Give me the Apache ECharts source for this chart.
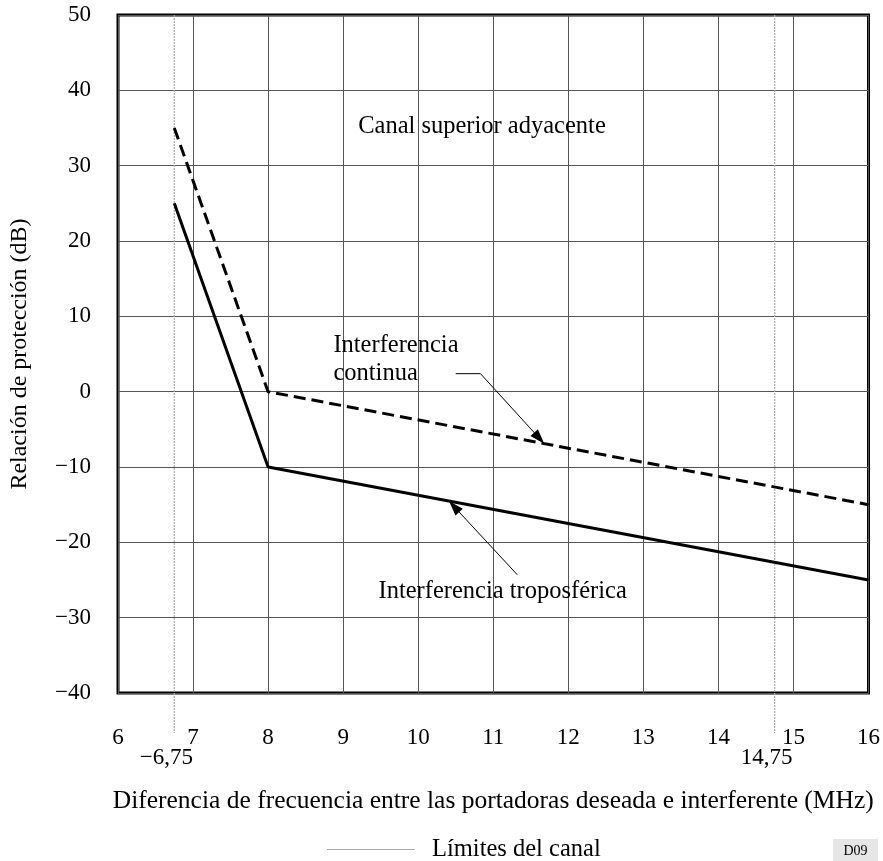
<!DOCTYPE html>
<html><head><meta charset="utf-8">
<script src="https://cdn.jsdelivr.net/npm/echarts@6/dist/echarts.min.js"></script>
<style>html,body{margin:0;padding:0;background:#fff}#c{width:883px;height:861px}</style>
</head><body><div id="c"></div>
<script>
const xTicks = [6, 7, 8, 9, 10, 11, 12, 13, 14, 15, 16];
const yTicks = [-40, -30, -20, -10, 0, 10, 20, 30, 40, 50];
const tropo = [[6.75, 25], [8, -10], [16, -25]];
const continua = [[6.75, 35], [8, 0], [16, -15]];
const channelLimits = [6.75, 14.75];
const channelLabels = ['\u22126,75', '14,75'];
const FONT = 'Liberation Serif';
const TXT = '24.5px ' + FONT;

const chart = echarts.init(document.getElementById('c'));
chart.setOption({
  animation: false,
  backgroundColor: '#fff',
  textStyle: {fontFamily: FONT},
  grid: {left: 115, right: 8, top: 15, bottom: 168, show: true, borderColor: '#000', borderWidth: 3},
  xAxis: {
    type: 'value', min: xTicks[0], max: xTicks[xTicks.length-1], interval: 1,
    axisLine: {show: false}, axisTick: {show: false},
    splitLine: {show: true, lineStyle: {color: '#555', width: 1}},
    axisLabel: {fontFamily: FONT, fontSize: 23, color: '#000', margin: 33},
    name: 'Diferencia de frecuencia entre las portadoras deseada e interferente (MHz)',
    nameLocation: 'middle', nameGap: 95,
    nameTextStyle: {fontFamily: FONT, fontSize: 25.5, color: '#000'}
  },
  yAxis: {
    type: 'value', min: yTicks[0], max: yTicks[yTicks.length-1], interval: 10,
    axisLine: {show: false}, axisTick: {show: false},
    splitLine: {show: true, lineStyle: {color: '#555', width: 1}},
    axisLabel: {fontFamily: FONT, fontSize: 23, color: '#000', margin: 27,
      formatter: v => v < 0 ? '\u2212' + Math.abs(v) : String(v)},
    name: 'Relación de protección (dB)', nameLocation: 'middle', nameGap: 86,
    nameTextStyle: {fontFamily: FONT, fontSize: 24, color: '#000'}
  },
  legend: {
    top: 832, left: 322, itemWidth: 100, itemHeight: 1,
    textStyle: {fontFamily: FONT, fontSize: 24.5, color: '#000'},
    data: [{name: 'Límites del canal', icon: 'path://M0,0 L88,0 L88,1 L0,1 Z M100,0 L100,1 L100,0 Z'}],
    selectedMode: false
  },
  series: [
    {
      name: 'Límites del canal', type: 'custom', clip: false, z: 1,
      itemStyle: {color: '#aaa'},
      data: channelLimits.map((x, i) => [x, i]),
      renderItem: (params, api) => {
        const x = api.value(0);
        const top = api.coord([x, yTicks[yTicks.length-1]]);
        const bot = api.coord([x, yTicks[0]]);
        return {
          type: 'group', children: [
            {type: 'line', shape: {x1: top[0], y1: top[1], x2: bot[0], y2: bot[1] + 40},
             style: {stroke: '#aaa', lineWidth: 1.2, lineDash: [2, 1]}},
            {type: 'text', x: top[0] - 8, y: bot[1] + 65,
             style: {text: channelLabels[api.value(1)], font: '23px ' + FONT, fill: '#000', align: 'center', verticalAlign: 'middle'}}
          ]
        };
      }
    },
    {name: 'Interferencia troposférica', type: 'line', data: tropo, symbol: 'none', z: 5,
     lineStyle: {color: '#000', width: 3}},
    {name: 'Interferencia continua', type: 'line', data: continua, symbol: 'none', z: 5,
     lineStyle: {color: '#000', width: 3, type: [12, 6]}}
  ]
});

function px(p) { return chart.convertToPixel({gridIndex: 0}, p); }
const tipC = px([11.68, -6.9]);
const elbowC = px([10.83, 2.39]);
const startC = px([10.5, 2.39]);
const tipT = px([10.41, -14.52]);
const startT = px([11.32, -24.3]);
function arrowHead(tip, from) {
  const dx = tip[0] - from[0], dy = tip[1] - from[1];
  const L = Math.hypot(dx, dy), ux = dx / L, uy = dy / L;
  const len = 15, w = 5;
  const bx = tip[0] - ux * len, by = tip[1] - uy * len;
  return {type: 'polygon', shape: {points: [tip, [bx - uy * w, by + ux * w], [bx + uy * w, by - ux * w]]}, style: {fill: '#000'}, z: 10};
}
const canalPos = px([10.85, 35.2]);
const cont1 = px([8.87, 6.1]);
const cont2 = px([8.87, 2.4]);
const tropoPos = px([11.125, -26.55]);
chart.setOption({
  graphic: [
    {type: 'text', x: canalPos[0], y: canalPos[1], style: {text: 'Canal superior adyacente', font: TXT, fill: '#000', align: 'center', verticalAlign: 'middle'}, z: 10},
    {type: 'text', x: cont1[0], y: cont1[1], style: {text: 'Interferencia', font: TXT, fill: '#000', align: 'left', verticalAlign: 'middle'}, z: 10},
    {type: 'text', x: cont2[0], y: cont2[1], style: {text: 'continua', font: TXT, fill: '#000', align: 'left', verticalAlign: 'middle'}, z: 10},
    {type: 'polyline', shape: {points: [startC, elbowC, tipC]}, style: {stroke: '#000', lineWidth: 1, fill: null}, z: 10},
    arrowHead(tipC, elbowC),
    {type: 'text', x: tropoPos[0], y: tropoPos[1], style: {text: 'Interferencia troposférica', font: TXT, fill: '#000', align: 'center', verticalAlign: 'middle'}, z: 10},
    {type: 'line', shape: {x1: startT[0], y1: startT[1], x2: tipT[0], y2: tipT[1]}, style: {stroke: '#000', lineWidth: 1}, z: 10},
    arrowHead(tipT, startT),
    {type: 'group', right: 5, bottom: 0, children: [
      {type: 'rect', shape: {x: 0, y: 0, width: 45, height: 22}, style: {fill: '#e6e6e6'}},
      {type: 'text', x: 22.5, y: 12, style: {text: 'D09', font: '14px ' + FONT, fill: '#000', align: 'center', verticalAlign: 'middle'}}
    ]}
  ]
});
</script></body></html>
